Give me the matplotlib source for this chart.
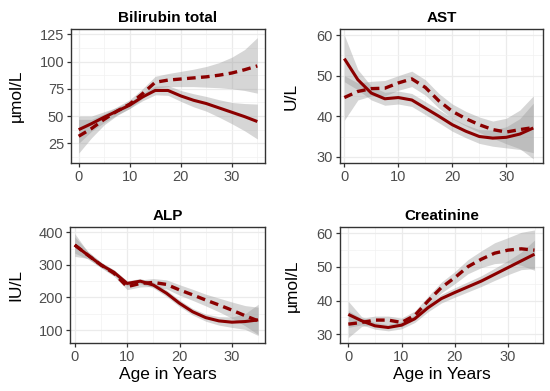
"""
Smoothed lab values by age, two groups (solid / dashed) with confidence bands
"""
import matplotlib.pyplot as plt
import numpy as np

# DATA
#####################
age = [0, 2.5, 5, 7.5, 10, 12.5, 15, 17.5, 20, 22.5, 25, 27.5, 30, 32.5, 35]

# Bilirubin total (umol/L)
bili_solid = [37.5, 43, 49, 54.5, 60, 67.5, 73.5, 73.5, 68.5, 64.5, 61.5, 57.5, 53.5, 49.5, 45]
bili_solid_lo = [25, 36, 44, 51, 57, 64, 69.5, 69, 63.5, 58.5, 54.5, 49, 43, 36.5, 29]
bili_solid_hi = [50, 50, 54, 58, 63, 71, 77.5, 78, 73.5, 70.5, 68, 65, 62.5, 61.5, 61]
bili_dash = [31.5, 38.5, 47, 54.5, 61, 70.5, 81, 83, 84, 85, 86, 87.5, 89.5, 92.5, 96]
bili_dash_lo = [16, 30, 42, 50.5, 57, 66, 75.5, 77, 77, 77, 76.5, 76, 75, 73.5, 71]
bili_dash_hi = [47, 47, 52, 58.5, 65, 75, 86.5, 89, 91, 93, 95.5, 99, 104, 111, 122]

# AST (U/L)
ast_solid = [54.2, 49, 45.7, 44.3, 44.6, 44, 42, 40, 37.9, 36.3, 35, 34.6, 34.8, 35.6, 37.1]
ast_solid_lo = [48.5, 46.5, 44, 42.7, 43, 42.4, 40.4, 38.4, 36.3, 34.7, 33.3, 32.6, 32.2, 31.8, 31]
ast_solid_hi = [60, 51.5, 47.4, 45.9, 46.2, 45.6, 43.6, 41.6, 39.5, 37.9, 36.7, 36.6, 37.4, 39.4, 43.2]
ast_dash = [44.6, 46.1, 46.8, 46.9, 48.2, 49.2, 47.1, 43.8, 41.2, 39.4, 37.9, 36.7, 36.1, 36.7, 37.2]
ast_dash_lo = [39, 44, 45, 45, 46.4, 47.3, 45.2, 42, 39.4, 37.6, 36, 34.6, 33.2, 32, 29.5]
ast_dash_hi = [50, 48.2, 48.6, 48.8, 50, 51.1, 49, 45.6, 43, 41.2, 39.8, 38.8, 39.5, 41.5, 45]

# ALP (IU/L)
alp_solid = [361, 330, 300, 277, 243, 250, 238, 213, 182, 156, 138, 128, 124, 126, 131]
alp_solid_lo = [336, 318, 292, 269, 235, 242, 229, 203, 172, 146, 127, 115, 108, 102, 83]
alp_solid_hi = [386, 342, 308, 285, 251, 258, 247, 223, 192, 166, 149, 141, 140, 150, 179]
alp_dash = [361, 330, 300, 274, 233, 243, 246, 240, 223, 208, 192, 177, 161, 144, 128]
alp_dash_lo = [326, 320, 291, 265, 224, 232, 234, 226, 207, 191, 174, 156, 136, 113, 86]
alp_dash_hi = [396, 340, 309, 283, 242, 254, 258, 254, 239, 225, 210, 198, 186, 175, 170]

# Creatinine (umol/L)
crea_solid = [35.9, 34, 32.5, 32, 32.7, 34.6, 37.9, 40.6, 42.4, 44.1, 45.8, 47.8, 49.8, 51.8, 53.8]
crea_solid_lo = [32, 32.8, 31.5, 31, 31.6, 33.5, 36.7, 39.3, 41, 42.6, 44.2, 46, 47.7, 49.2, 49.5]
crea_solid_hi = [39.8, 35.2, 33.5, 33, 33.8, 35.7, 39.1, 41.9, 43.8, 45.6, 47.4, 49.6, 51.9, 54.4, 58]
crea_dash = [33, 33.5, 34.2, 34.2, 33.5, 35.6, 39.9, 43.9, 46.8, 50.1, 52.3, 54.1, 55, 55.4, 55]
crea_dash_lo = [29, 32.3, 33, 33, 32.2, 34.3, 38.5, 42.3, 45, 48, 49.8, 51, 51.3, 50.5, 49]
crea_dash_hi = [37, 34.7, 35.4, 35.4, 34.8, 36.9, 41.3, 45.5, 48.6, 52.2, 54.8, 57.2, 58.7, 60.3, 61]

plt.rcParams['font.family'] = ['Liberation Sans', 'DejaVu Sans']
LINE = '#8b0000'


def Panel(ax, title, ylab, solid, solid_lo, solid_hi, dash, dash_lo, dash_hi,
          xlim, ylim, yticks, ylab_x, xlab=None):
    '''
    Draws one smoothed panel in a theme_bw look.
    '''
    ax.fill_between(age, solid_lo, solid_hi, color='#999999', alpha=0.4, linewidth=0, zorder=2)
    ax.plot(age, solid, color=LINE, linewidth=2.2, solid_capstyle='butt', zorder=4)
    ax.fill_between(age, dash_lo, dash_hi, color='#999999', alpha=0.4, linewidth=0, zorder=3)
    ax.plot(age, dash, color=LINE, linewidth=2.4, dashes=(2.6, 1.6), zorder=5)

    ax.set_xlim(*xlim)
    ax.set_xticks([0, 10, 20, 30])
    ax.set_xticks([5, 15, 25, 35], minor=True)
    ax.set_yticks(yticks)
    step = yticks[1] - yticks[0]
    ax.set_yticks([t - step / 2 for t in yticks] + [yticks[-1] + step / 2], minor=True)
    ax.set_ylim(*ylim)
    ax.grid(which='major', color='#ebebeb', linewidth=0.9, zorder=0)
    ax.grid(which='minor', color='#f2f2f2', linewidth=0.5, zorder=0)
    ax.set_axisbelow(True)
    for s in ax.spines.values():
        s.set_color('#333333')
        s.set_linewidth(1.0)
    ax.tick_params(which='major', length=3, width=0.9, color='#333333',
                   labelsize=10.5, labelcolor='#4d4d4d', pad=2)
    ax.tick_params(which='minor', length=0)
    ax.set_title(title, fontsize=11, fontweight='bold', pad=5)
    ax.set_ylabel(ylab, fontsize=12.5)
    ax.yaxis.set_label_coords(ylab_x, 0.5)
    if xlab:
        ax.set_xlabel(xlab, fontsize=12.5, labelpad=2)


fig = plt.figure(figsize=(5.5, 3.91), dpi=100)
ax1 = fig.add_axes([0.1291, 0.5824, 0.3527, 0.3435])
ax2 = fig.add_axes([0.6182, 0.5824, 0.3691, 0.3435])
ax3 = fig.add_axes([0.1273, 0.1220, 0.3545, 0.2967])
ax4 = fig.add_axes([0.6182, 0.1220, 0.3691, 0.2967])

Panel(ax1, 'Bilirubin total', 'µmol/L', bili_solid, bili_solid_lo, bili_solid_hi,
      bili_dash, bili_dash_lo, bili_dash_hi, (-1.5, 36.5), (6.7, 129.9),
      [25, 50, 75, 100, 125], -0.242)
Panel(ax2, 'AST', 'U/L', ast_solid, ast_solid_lo, ast_solid_hi,
      ast_dash, ast_dash_lo, ast_dash_hi, (-0.8, 36.8), (28.4, 61.5),
      [30, 40, 50, 60], -0.205)
Panel(ax3, 'ALP', 'IU/L', alp_solid, alp_solid_lo, alp_solid_hi,
      alp_dash, alp_dash_lo, alp_dash_hi, (-0.9, 36.3), (59.2, 415.4),
      [100, 200, 300, 400], -0.241, xlab='Age in Years')
Panel(ax4, 'Creatinine', 'µmol/L', crea_solid, crea_solid_lo, crea_solid_hi,
      crea_dash, crea_dash_lo, crea_dash_hi, (-1.56, 36.6), (27.3, 61.8),
      [30, 40, 50, 60], -0.197, xlab='Age in Years')

plt.savefig('out.png', dpi=100)
